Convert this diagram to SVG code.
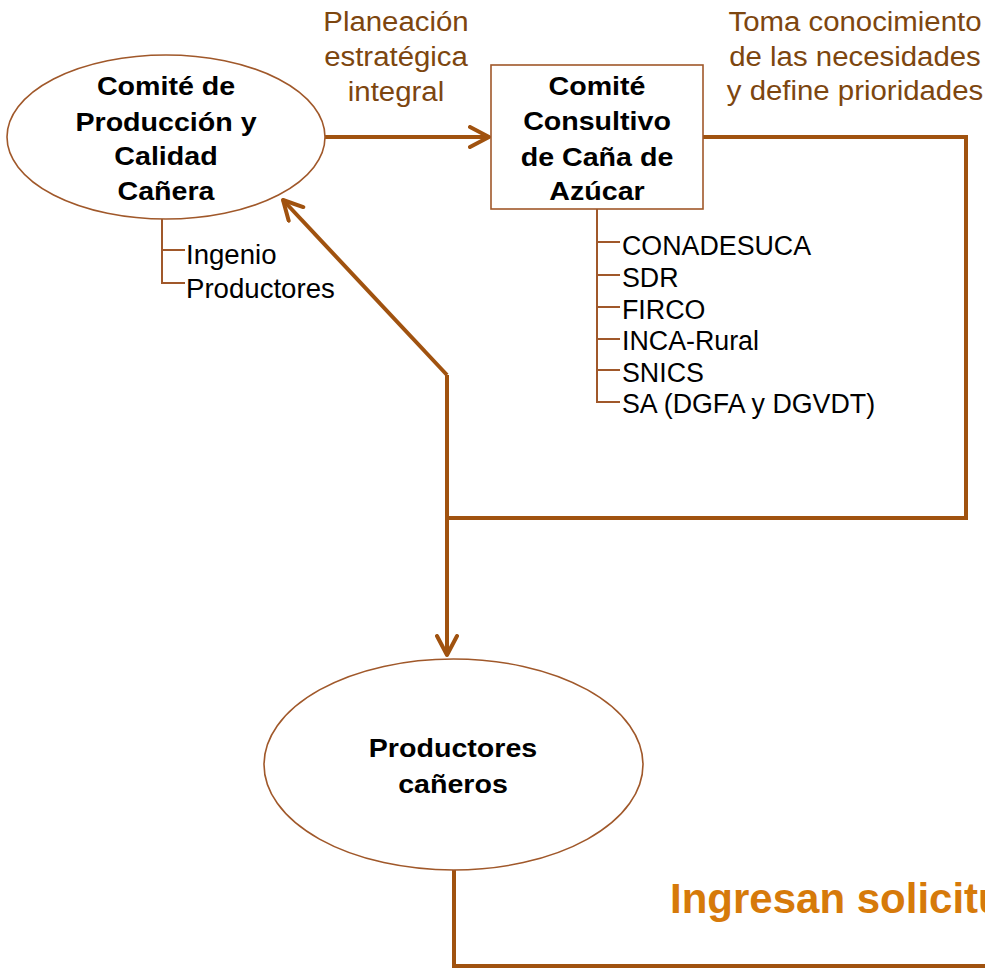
<svg xmlns="http://www.w3.org/2000/svg" width="985" height="968" viewBox="0 0 985 968">
<style>
.node{fill:#fff;stroke:#A0582A;stroke-width:1.6}
.bold{font-family:"Liberation Sans",Arial,sans-serif;font-weight:bold;font-size:26px;fill:#000;text-anchor:middle}
.reg{font-family:"Liberation Sans",Arial,sans-serif;font-size:26.8px;fill:#000}
.sub{font-family:"Liberation Sans",Arial,sans-serif;font-size:27.6px;fill:#000}
.lbl{font-family:"Liberation Sans",Arial,sans-serif;font-size:28px;fill:#7D460F;text-anchor:middle}
.conn{fill:none;stroke:#A0520F;stroke-width:4}
.tree{fill:none;stroke:#A0582A;stroke-width:2}
.big{font-family:"Liberation Sans",Arial,sans-serif;font-weight:bold;font-size:42px;fill:#D67A0A}
</style>
<defs>
<marker id="arr" viewBox="0 0 24 24" refX="21" refY="12" markerWidth="24" markerHeight="24" markerUnits="userSpaceOnUse" orient="auto">
<path d="M2,2 L21,12 L2,22" fill="none" stroke="#A0520F" stroke-width="4" stroke-linecap="round" stroke-linejoin="round"/>
</marker>
</defs>
<g id="connectors">
<path class="conn" d="M325,137 L489,137" marker-end="url(#arr)"/>
<path class="conn" d="M703,137 L966,137 L966,518 L447,518"/>
<path class="conn" d="M447,375 L447,655" marker-end="url(#arr)"/>
<path class="conn" d="M447,375 L283,200" marker-end="url(#arr)"/>
<path class="conn" d="M454,870 L454,966 L985,966"/>
</g>
<g id="label-planeacion" transform="translate(396,0) scale(1.05,1)">
<text class="lbl" x="0" y="31">Planeación</text>
<text class="lbl" x="0" y="66">estratégica</text>
<text class="lbl" x="0" y="101">integral</text>
</g>
<g id="label-toma" transform="translate(855,0) scale(1.05,1)">
<text class="lbl" x="0" y="31">Toma conocimiento</text>
<text class="lbl" x="0" y="66">de las necesidades</text>
<text class="lbl" x="0" y="100">y define prioridades</text>
</g>
<g id="comite-produccion">
<ellipse class="node" cx="166" cy="137" rx="159" ry="82"/>
<g transform="translate(166,0) scale(1.1,1)">
<text class="bold" x="0" y="95">Comité de</text>
<text class="bold" x="0" y="131">Producción y</text>
<text class="bold" x="0" y="165">Calidad</text>
<text class="bold" x="0" y="200">Cañera</text>
</g>
<path class="tree" d="M162,219 L162,283 L185,283 M162,250 L185,250"/>
<text class="sub" x="186" y="264">Ingenio</text>
<text class="sub" x="186" y="298">Productores</text>
</g>
<g id="comite-consultivo">
<rect class="node" x="491" y="65" width="212" height="144"/>
<g transform="translate(597,0) scale(1.1,1)">
<text class="bold" x="0" y="95">Comité</text>
<text class="bold" x="0" y="130">Consultivo</text>
<text class="bold" x="0" y="166">de Caña de</text>
<text class="bold" x="0" y="200">Azúcar</text>
</g>
<path class="tree" d="M597,209 L597,402 L620,402 M597,242 L620,242 M597,275 L620,275 M597,307 L620,307 M597,339 L620,339 M597,370 L620,370"/>
<text class="reg" x="622" y="255">CONADESUCA</text>
<text class="reg" x="622" y="287">SDR</text>
<text class="reg" x="622" y="319">FIRCO</text>
<text class="reg" x="622" y="350">INCA-Rural</text>
<text class="reg" x="622" y="382">SNICS</text>
<text class="reg" x="622" y="413">SA (DGFA y DGVDT)</text>
</g>
<g id="productores-caneros">
<ellipse class="node" cx="453.5" cy="764.5" rx="189.5" ry="105.5"/>
<g transform="translate(453,0) scale(1.1,1)">
<text class="bold" x="0" y="757">Productores</text>
<text class="bold" x="0" y="793">cañeros</text>
</g>
</g>
<g id="label-ingresan">
<text class="big" x="670" y="913">Ingresan solicitu</text>
</g>
</svg>
